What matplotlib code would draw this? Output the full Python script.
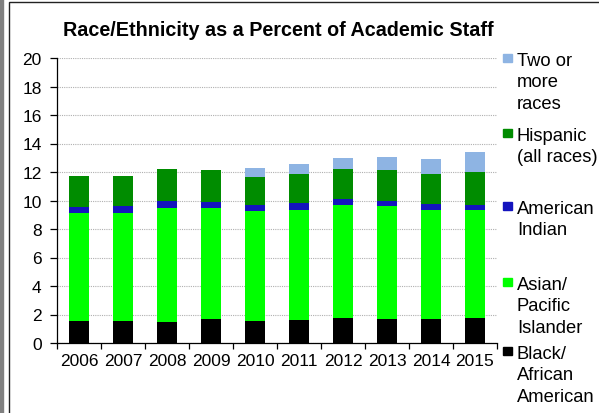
import numpy as np
import matplotlib.pyplot as plt
from matplotlib.patches import Rectangle

plt.rcParams['font.family'] = ['Liberation Sans', 'DejaVu Sans']

# data (percent of academic staff)
years = ['2006', '2007', '2008', '2009', '2010', '2011', '2012', '2013', '2014', '2015']
black = [1.56, 1.56, 1.49, 1.68, 1.56, 1.64, 1.73, 1.71, 1.68, 1.78]
asian = [7.56, 7.58, 7.95, 7.76, 7.72, 7.72, 7.95, 7.90, 7.65, 7.58]
amind = [0.40, 0.47, 0.49, 0.45, 0.37, 0.44, 0.40, 0.38, 0.40, 0.35]
hispanic = [2.18, 2.11, 2.27, 2.28, 2.02, 2.08, 2.13, 2.15, 2.15, 2.31]
two_more = [0.0, 0.0, 0.0, 0.0, 0.61, 0.66, 0.75, 0.89, 1.01, 1.36]

series = [black, asian, amind, hispanic, two_more]
labels = ['Black/\nAfrican\nAmerican', 'Asian/\nPacific\nIslander', 'American\nIndian',
          'Hispanic\n(all races)', 'Two or\nmore\nraces']
colors = ['#000000', '#00FF00', '#1414BE', '#008C00', '#8EB4E3']

W, H = 599, 414
fig = plt.figure(figsize=(W / 100, H / 100), dpi=100)
ax = fig.add_axes([57 / W, 1 - 344 / H, 440 / W, 285 / H])

x = np.arange(len(years))
bottom = np.zeros(len(years))
for vals, col in zip(series, colors):
    ax.bar(x, vals, 0.45, bottom=bottom, color=col, zorder=3)
    bottom += np.array(vals)

ax.set_xlim(-0.5, 9.5)
ax.set_ylim(0, 20)
ax.set_yticks(range(0, 21, 2))
ax.yaxis.grid(True, color='#b0b0b0', linestyle=(0, (1, 1)), linewidth=0.8, zorder=0)
for s in ['top', 'right']:
    ax.spines[s].set_visible(False)
ax.spines['left'].set_linewidth(0.9)
ax.spines['bottom'].set_linewidth(0.9)

# ticks at category boundaries, labels at centres
ax.set_xticks(np.arange(-0.5, 10, 1))
ax.set_xticklabels([])
ax.set_xticks(x, minor=True)
ax.set_xticklabels(years, minor=True)
ax.tick_params(axis='x', which='major', direction='out', length=4, width=0.9)
ax.tick_params(axis='x', which='minor', length=0, pad=7, labelsize=12.5)
ax.tick_params(axis='y', direction='out', length=5, width=0.9, labelsize=12.5, pad=6)

fig.text(278 / W, 1 - 31 / H, 'Race/Ethnicity as a Percent of Academic Staff',
         ha='center', va='center', fontsize=14.2, fontweight='bold')

# legend drawn by hand to follow the original spacing
leg_y = [352, 283, 207, 134, 59]
for lab, col, yy in zip(labels, colors, leg_y):
    fig.patches.append(Rectangle((503 / W, 1 - (yy + 4) / H), 8.5 / W, 8 / H,
                                 transform=fig.transFigure, color=col))
    fig.text(517 / W, 1 - (yy - 6) / H, lab, ha='left', va='top',
             fontsize=13.2, linespacing=1.33)

# outer chart border
fig.patches.append(Rectangle((9 / W, -0.1), 1.2, 1 - 3 / H + 0.1, transform=fig.transFigure,
                             fill=False, edgecolor='#222222', linewidth=1.0))
fig.patches.append(Rectangle((0, 0), 3 / W, 1, transform=fig.transFigure,
                             color='#808080'))

fig.savefig('out.png', dpi=100)
